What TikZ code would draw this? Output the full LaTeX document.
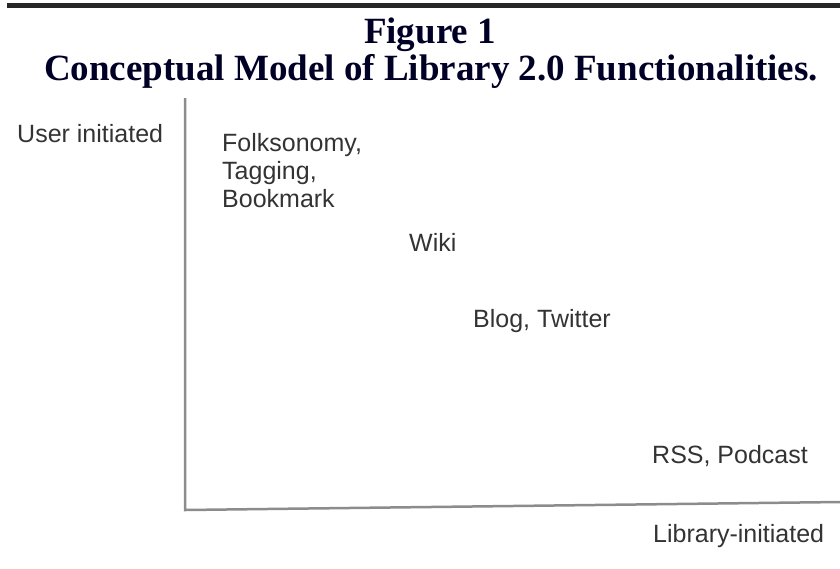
\documentclass[tikz,border=0pt]{standalone}
\usepackage{fontspec}
\setmainfont{Liberation Serif}
\setsansfont{Liberation Sans}
\usetikzlibrary{calc}

\begin{document}
\begin{tikzpicture}[x=1pt,y=-1pt,
  lbl/.style={anchor=base west,inner sep=0pt,align=left,
    font=\sffamily\fontsize{25}{28}\selectfont,text=black!80},
  ttl/.style={anchor=base,inner sep=0pt,
    font=\bfseries\fontsize{37}{37}\selectfont,text=black!85!blue}]
  % 枠
  \useasboundingbox (0,0) rectangle (840,568);

  % 上の線
  \draw[line width=5pt,black!85] (7,5.5) -- (840,5.5);

  % タイトル
  \node[ttl] (fig) at (430,43) {Figure 1};
  \node[ttl] (caption) at (431,80) {Conceptual Model of Library 2.0 Functionalities.};

  % 座標系
  \def\ox{185}
  \def\oy{510}
  \coordinate (O) at (\ox,\oy); % 原点
  \coordinate (ytop) at (\ox,98); % 縦軸
  \coordinate (xend) at (840,502); % 横軸
  \draw[line width=2.5pt,black!45,line join=miter] (ytop) -- (O) -- (xend);

  % 軸ラベル
  \node[lbl] (user) at (17,142) {User initiated};
  \node[lbl] (lib) at (653,542) {Library-initiated};

  % 機能 (複数行は最後の行が base)
  \node[lbl] (folk) at (222,207) {Folksonomy,\\Tagging,\\Bookmark};
  \node[lbl] (wiki) at (409,251) {Wiki};
  \node[lbl] (blog) at (473,327) {Blog, Twitter};
  \node[lbl] (rss) at (652,463) {RSS, Podcast};
\end{tikzpicture}
\end{document}
